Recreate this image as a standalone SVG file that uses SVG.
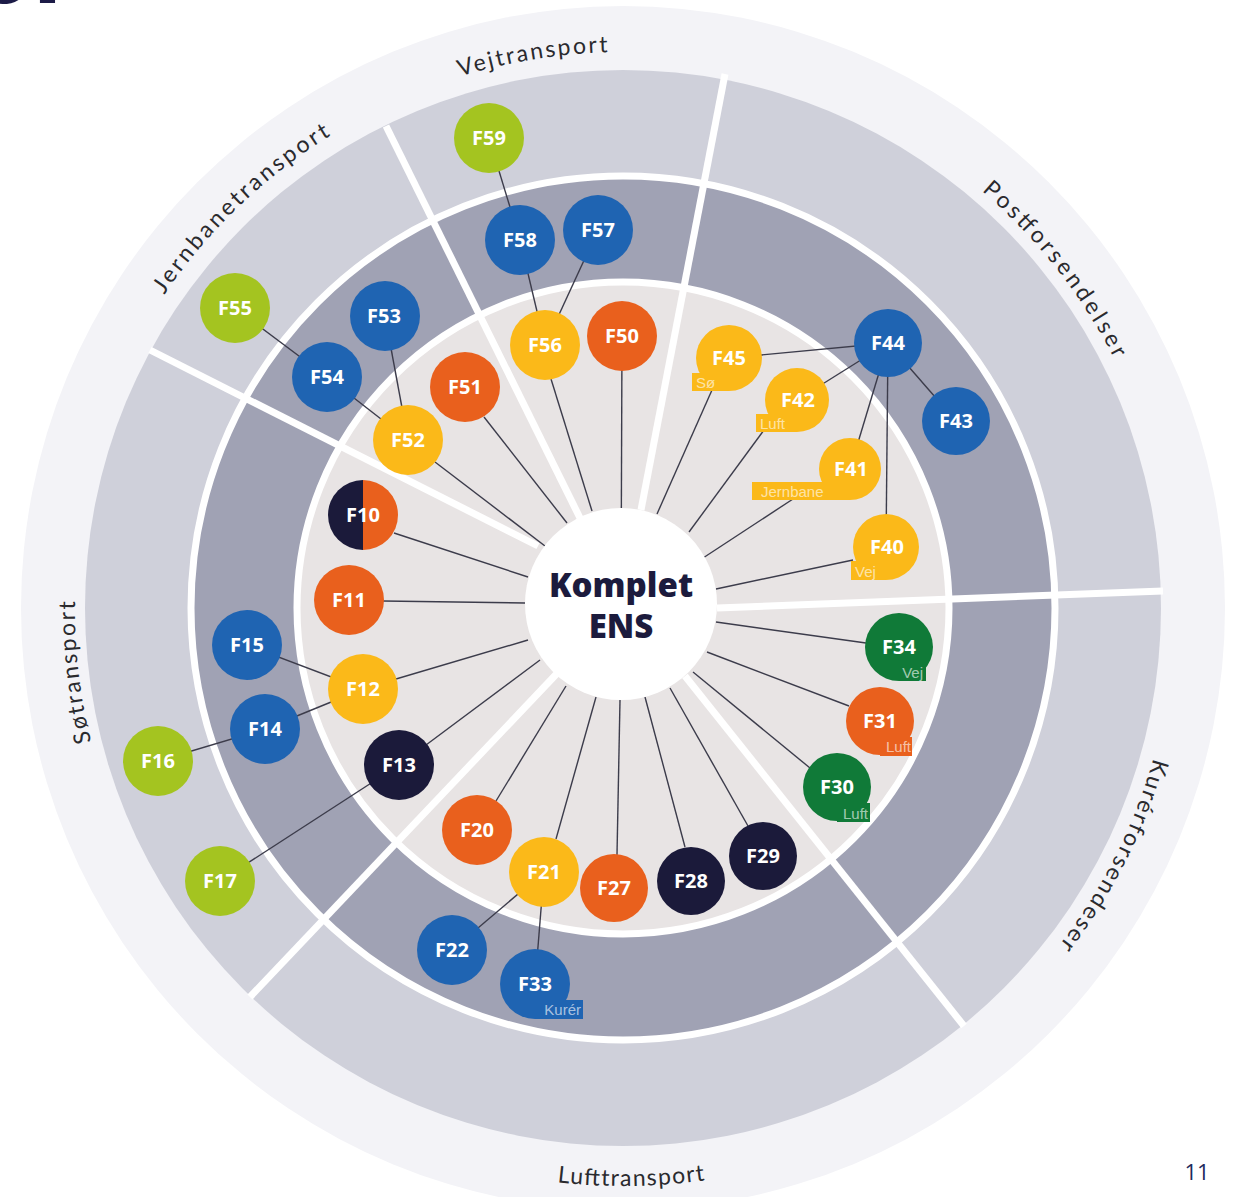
<svg xmlns="http://www.w3.org/2000/svg" width="1241" height="1197" viewBox="0 0 1241 1197">
<defs>
<style>
.ring-label{font-family:Lato,"Open Sans","Liberation Sans",sans-serif;font-size:23px;fill:#2a2a2e}
.nl{font-family:"Open Sans","Liberation Sans",sans-serif;font-weight:700;font-size:20px;fill:#fff;text-anchor:middle}
.tl{font-family:"Liberation Sans",Arial,sans-serif;font-size:15px;fill:#fff;fill-opacity:.62}
.tr{font-family:"Liberation Sans",Arial,sans-serif;font-size:15px;fill:#fff;fill-opacity:.62;text-anchor:end}
.conn line{stroke:#3c3c4b;stroke-width:1.4}
.div line{stroke:#fff;stroke-width:7}
.blue{fill:#1f64b2}.yellow{fill:#fbb919}.orange{fill:#e9601d}.lime{fill:#a4c420}.green{fill:#107a38}.navy{fill:#1b1a3a}
</style>
<path id="pVej" d="M234.3,211 A557,557 0 0 1 864.7,106.7"/>
<path id="pJern" d="M77.8,499.9 A557,557 0 0 1 539.7,58.4"/>
<path id="pPost" d="M783.5,82.4 A551,551 0 0 1 1173.7,576.6"/>
<path id="pSo" d="M213.4,974.1 A550,550 0 0 1 141.1,347.6"/>
<path id="pKur" d="M1168.2,529.6 A550,550 0 0 1 884.8,1093.3"/>
<path id="pLuft" d="M298.9,1085.7 A577,577 0 0 0 960.7,1077.6"/>
</defs>
<rect width="1241" height="1197" fill="#fff"/>
<text x="-29" y="3" font-family="Liberation Sans,Arial,sans-serif" font-size="110" font-weight="700" fill="#1c1b47">er</text>

<g id="rings">
<circle cx="623" cy="608" r="602" fill="#f3f3f7"/>
<circle cx="623" cy="608" r="538" fill="#cfd0da"/>
<circle cx="623" cy="608" r="432" fill="#a0a2b4"/>
<circle cx="623" cy="608" r="326" fill="#e8e4e4"/>
</g>
<g class="div" id="dividers">
<line x1="386" y1="126" x2="580" y2="518"/>
<line x1="725" y1="74" x2="641" y2="510"/>
<line x1="150" y1="350" x2="538" y2="546"/>
<line x1="717" y1="608" x2="1163" y2="591"/>
<line x1="685" y1="676" x2="964" y2="1026"/>
<line x1="565" y1="665" x2="250" y2="997"/>
</g>
<g id="ring-gaps" fill="none" stroke="#fff" stroke-width="7">
<circle cx="623" cy="608" r="432"/>
<circle cx="623" cy="608" r="326"/>
</g>

<g id="sector-labels" class="ring-label">
<text><textPath href="#pVej" startOffset="50%" text-anchor="middle" textLength="150" lengthAdjust="spacing">Vejtransport</textPath></text>
<text><textPath href="#pJern" startOffset="50%" text-anchor="middle" textLength="232" lengthAdjust="spacing">Jernbanetransport</textPath></text>
<text><textPath href="#pPost" startOffset="50%" text-anchor="middle" textLength="215" lengthAdjust="spacing">Postforsendelser</textPath></text>
<text><textPath href="#pSo" startOffset="50%" text-anchor="middle" textLength="142" lengthAdjust="spacing">Søtransport</textPath></text>
<text><textPath href="#pKur" startOffset="50%" text-anchor="middle" textLength="210" lengthAdjust="spacing">Kurérforsendeser</textPath></text>
<text><textPath href="#pLuft" startOffset="50%" text-anchor="middle" textLength="148" lengthAdjust="spacing">Lufttransport</textPath></text>
</g>

<g class="conn" id="connectors">
<line x1="621" y1="604" x2="622" y2="336"/>
<line x1="592" y1="511" x2="551" y2="379"/>
<line x1="567" y1="523" x2="484" y2="417"/>
<line x1="545" y1="546" x2="435" y2="462"/>
<line x1="528" y1="577" x2="394" y2="533"/>
<line x1="525" y1="603" x2="383" y2="601"/>
<line x1="528" y1="640" x2="396" y2="679"/>
<line x1="540" y1="660" x2="426" y2="745"/>
<line x1="566" y1="686" x2="496" y2="801"/>
<line x1="596" y1="697" x2="556" y2="839"/>
<line x1="620" y1="700" x2="617" y2="855"/>
<line x1="645" y1="697" x2="685" y2="847"/>
<line x1="670" y1="688" x2="748" y2="826"/>
<line x1="693" y1="672" x2="810" y2="768"/>
<line x1="707" y1="652" x2="849" y2="706"/>
<line x1="716" y1="622" x2="866" y2="643"/>
<line x1="716" y1="589" x2="853" y2="560"/>
<line x1="703" y1="558" x2="793" y2="499"/>
<line x1="689" y1="532" x2="764" y2="430"/>
<line x1="657" y1="514" x2="712" y2="390"/>
<line x1="489" y1="138" x2="520" y2="240"/>
<line x1="520" y1="240" x2="545" y2="345"/>
<line x1="598" y1="230" x2="545" y2="345"/>
<line x1="235" y1="308" x2="327" y2="377"/>
<line x1="327" y1="377" x2="408" y2="440"/>
<line x1="385" y1="316" x2="408" y2="440"/>
<line x1="729" y1="358" x2="888" y2="343"/>
<line x1="797" y1="400" x2="888" y2="343"/>
<line x1="850" y1="469" x2="888" y2="343"/>
<line x1="886" y1="547" x2="888" y2="343"/>
<line x1="888" y1="343" x2="956" y2="421"/>
<line x1="247" y1="645" x2="363" y2="689"/>
<line x1="265" y1="729" x2="363" y2="689"/>
<line x1="158" y1="761" x2="265" y2="729"/>
<line x1="220" y1="881" x2="399" y2="765"/>
<line x1="544" y1="872" x2="452" y2="950"/>
<line x1="544" y1="872" x2="535" y2="984"/>
</g>

<g id="center">
<circle cx="621" cy="604" r="96" fill="#fff"/>
<text x="621" y="597" font-family="'Open Sans','Liberation Sans',sans-serif" font-weight="800" font-size="33" fill="#1c1b3d" text-anchor="middle">Komplet</text>
<text x="621" y="638" font-family="'Open Sans','Liberation Sans',sans-serif" font-weight="800" font-size="33" fill="#1c1b3d" text-anchor="middle">ENS</text>
</g>

<g id="nodes">
<g id="F59"><circle class="lime" cx="489" cy="138" r="35"/><text class="nl" x="489" y="145">F59</text></g>
<g id="F58"><circle class="blue" cx="520" cy="240" r="35"/><text class="nl" x="520" y="247">F58</text></g>
<g id="F57"><circle class="blue" cx="598" cy="230" r="35"/><text class="nl" x="598" y="237">F57</text></g>
<g id="F56"><circle class="yellow" cx="545" cy="345" r="35"/><text class="nl" x="545" y="352">F56</text></g>
<g id="F50"><circle class="orange" cx="622" cy="336" r="35"/><text class="nl" x="622" y="343">F50</text></g>
<g id="F55"><circle class="lime" cx="235" cy="308" r="35"/><text class="nl" x="235" y="315">F55</text></g>
<g id="F53"><circle class="blue" cx="385" cy="316" r="35"/><text class="nl" x="384" y="323">F53</text></g>
<g id="F54"><circle class="blue" cx="327" cy="377" r="35"/><text class="nl" x="327" y="384">F54</text></g>
<g id="F52"><circle class="yellow" cx="408" cy="440" r="35"/><text class="nl" x="408" y="447">F52</text></g>
<g id="F51"><circle class="orange" cx="465" cy="387" r="35"/><text class="nl" x="465" y="394">F51</text></g>
<g id="F10"><path class="navy" d="M363,480 A35,35 0 0 0 363,550 Z"/><path class="orange" d="M363,480 A35,35 0 0 1 363,550 Z"/><text class="nl" x="363" y="522">F10</text></g>
<g id="F11"><circle class="orange" cx="349" cy="600" r="35"/><text class="nl" x="349" y="607">F11</text></g>
<g id="F15"><circle class="blue" cx="247" cy="645" r="35"/><text class="nl" x="247" y="652">F15</text></g>
<g id="F12"><circle class="yellow" cx="363" cy="689" r="35"/><text class="nl" x="363" y="696">F12</text></g>
<g id="F14"><circle class="blue" cx="265" cy="729" r="35"/><text class="nl" x="265" y="736">F14</text></g>
<g id="F16"><circle class="lime" cx="158" cy="761" r="35"/><text class="nl" x="158" y="768">F16</text></g>
<g id="F13"><circle class="navy" cx="399" cy="765" r="35"/><text class="nl" x="399" y="772">F13</text></g>
<g id="F17"><circle class="lime" cx="220" cy="881" r="35"/><text class="nl" x="220" y="888">F17</text></g>
<g id="F20"><circle class="orange" cx="477" cy="830" r="35"/><text class="nl" x="477" y="837">F20</text></g>
<g id="F21"><circle class="yellow" cx="544" cy="872" r="35"/><text class="nl" x="544" y="879">F21</text></g>
<g id="F22"><circle class="blue" cx="452" cy="950" r="35"/><text class="nl" x="452" y="957">F22</text></g>
<g id="F33"><circle class="blue" cx="535" cy="984" r="35"/><rect class="blue" x="535" y="1000" width="48" height="19"/><text class="nl" x="535" y="991">F33</text><text class="tr" x="581" y="1015">Kurér</text></g>
<g id="F27"><circle class="orange" cx="614" cy="888" r="34"/><text class="nl" x="614" y="895">F27</text></g>
<g id="F28"><circle class="navy" cx="691" cy="881" r="34"/><text class="nl" x="691" y="888">F28</text></g>
<g id="F29"><circle class="navy" cx="763" cy="856" r="34"/><text class="nl" x="763" y="863">F29</text></g>
<g id="F30"><circle class="green" cx="837" cy="787" r="34"/><rect class="green" x="837" y="803" width="33" height="19"/><text class="nl" x="837" y="794">F30</text><text class="tr" x="868" y="819">Luft</text></g>
<g id="F31"><circle class="orange" cx="880" cy="721" r="34"/><rect class="orange" x="880" y="737" width="32" height="19"/><text class="nl" x="880" y="728">F31</text><text class="tr" x="911" y="752">Luft</text></g>
<g id="F34"><circle class="green" cx="899" cy="647" r="34"/><rect class="green" x="899" y="662" width="27" height="19"/><text class="nl" x="899" y="654">F34</text><text class="tr" x="923" y="678">Vej</text></g>
<g id="F40"><circle class="yellow" cx="886" cy="547" r="33"/><rect class="yellow" x="851" y="561" width="35" height="19"/><text class="nl" x="887" y="554">F40</text><text class="tl" x="855" y="577">Vej</text></g>
<g id="F41"><circle class="yellow" cx="850" cy="469" r="31"/><rect class="yellow" x="752" y="482" width="98" height="18"/><text class="nl" x="851" y="476">F41</text><text class="tl" x="761" y="497">Jernbane</text></g>
<g id="F42"><circle class="yellow" cx="797" cy="400" r="32"/><rect class="yellow" x="756" y="414" width="41" height="18"/><text class="nl" x="798" y="407">F42</text><text class="tl" x="760" y="429">Luft</text></g>
<g id="F45"><circle class="yellow" cx="729" cy="358" r="33"/><rect class="yellow" x="692" y="373" width="37" height="18"/><text class="nl" x="729" y="365">F45</text><text class="tl" x="696" y="388">Sø</text></g>
<g id="F44"><circle class="blue" cx="888" cy="343" r="34"/><text class="nl" x="888" y="350">F44</text></g>
<g id="F43"><circle class="blue" cx="956" cy="421" r="34"/><text class="nl" x="956" y="428">F43</text></g>
</g>

<text x="1197" y="1180" font-family="'Open Sans','Liberation Sans',sans-serif" font-size="22" fill="#1f2a5c" text-anchor="middle">11</text>
</svg>
